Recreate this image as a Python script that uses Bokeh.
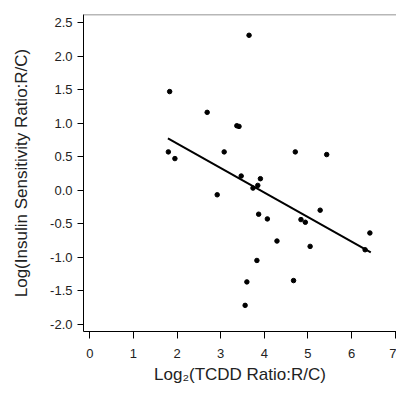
from bokeh.plotting import figure
from bokeh.models import Range1d, FixedTicker, Span
from bokeh.embed import file_html
from bokeh.resources import INLINE

# Data
tcdd_log2 = [1.83, 2.69, 3.37, 3.42, 1.80, 1.95, 3.08, 2.92, 3.65, 4.71,
             5.43, 3.47, 3.91, 3.85, 3.74, 3.87, 4.07, 5.28, 4.84, 4.94,
             6.42, 4.29, 5.05, 6.31, 3.83, 3.60, 4.67, 3.56]
insulin_log = [1.47, 1.16, 0.96, 0.95, 0.57, 0.47, 0.57, -0.07, 2.31, 0.57,
               0.53, 0.21, 0.17, 0.07, 0.03, -0.36, -0.43, -0.30, -0.44, -0.48,
               -0.64, -0.76, -0.84, -0.89, -1.05, -1.37, -1.35, -1.72]
fit_x = [1.79, 6.44]
fit_y = [0.77, -0.93]
x_ticks = [0, 1, 2, 3, 4, 5, 6, 7]
y_ticks = [-2.0, -1.5, -1.0, -0.5, 0.0, 0.5, 1.0, 1.5, 2.0, 2.5]
y_tick_labels = {-2.0: "-2.0", -1.5: "-1.5", -1.0: "-1.0", -0.5: "-0.5", 0.0: "0.0",
                 0.5: "0.5", 1.0: "1.0", 1.5: "1.5", 2.0: "2.0", 2.5: "2.5"}

FONT = "Liberation Sans"

p = figure(width=396, height=392, output_backend="svg", toolbar_location=None,
           x_range=Range1d(-0.145, 7.03), y_range=Range1d(-2.11, 2.62),
           min_border_left=83, min_border_right=0, min_border_top=14, min_border_bottom=61)

p.grid.visible = False
p.outline_line_color = None
p.background_fill_color = "white"
p.border_fill_color = "white"

top_line = Span(location=2.62, dimension="width", line_color="#707070", line_width=1.5)
p.add_layout(top_line)

p.line(fit_x, fit_y, line_color="black", line_width=2)
p.scatter(tcdd_log2, insulin_log, size=4.5, color="black")

p.xaxis.ticker = FixedTicker(ticks=x_ticks)
p.yaxis.ticker = FixedTicker(ticks=y_ticks)
p.yaxis.major_label_overrides = {float(k): v for k, v in y_tick_labels.items()}

for ax in (p.xaxis[0], p.yaxis[0]):
    ax.axis_line_color = "black"
    ax.axis_line_width = 1
    ax.major_tick_line_color = "black"
    ax.major_tick_in = 0
    ax.minor_tick_line_color = None
    ax.major_label_text_font = FONT
    ax.major_label_text_font_size = "13px"
    ax.major_label_text_color = "#222222"
    ax.axis_label_text_font = FONT
    ax.axis_label_text_font_size = "17px"
    ax.axis_label_text_font_style = "normal"
    ax.axis_label_text_color = "#222222"

p.xaxis.major_tick_out = 7
p.xaxis.major_label_standoff = 10
p.xaxis.axis_label = "Log\u2082(TCDD Ratio:R/C)"
p.xaxis.axis_label_standoff = 4

p.yaxis.major_tick_out = 6
p.yaxis.major_label_standoff = 5
p.yaxis.axis_label = "Log(Insulin Sensitivity Ratio:R/C)"
p.yaxis.axis_label_standoff = 16

open("out.html", "w").write(file_html(p, INLINE))
